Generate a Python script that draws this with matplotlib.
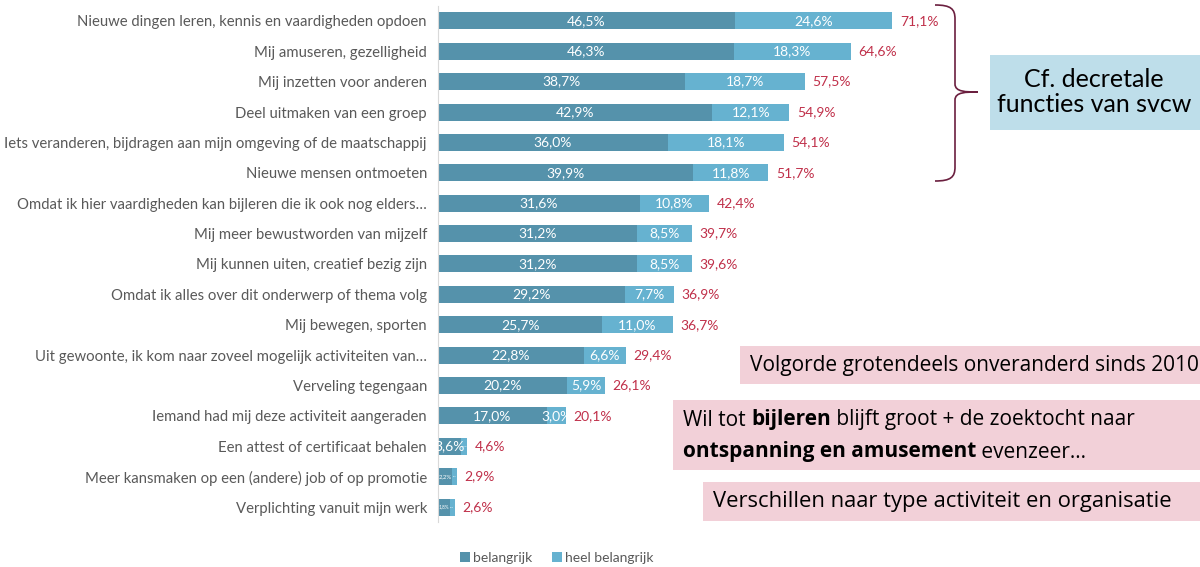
import numpy as np
import matplotlib.pyplot as plt
from matplotlib.path import Path
from matplotlib.patches import PathPatch, Rectangle

plt.rcParams['font.family'] = ['Lato', 'DejaVu Sans']

labels = [
    "Nieuwe dingen leren, kennis en vaardigheden opdoen",
    "Mij amuseren, gezelligheid",
    "Mij inzetten voor anderen",
    "Deel uitmaken van een groep",
    "Iets veranderen, bijdragen aan mijn omgeving of de maatschappij",
    "Nieuwe mensen ontmoeten",
    "Omdat ik hier vaardigheden kan bijleren die ik ook nog elders\u2026",
    "Mij meer bewustworden van mijzelf",
    "Mij kunnen uiten, creatief bezig zijn",
    "Omdat ik alles over dit onderwerp of thema volg",
    "Mij bewegen, sporten",
    "Uit gewoonte, ik kom naar zoveel mogelijk activiteiten van\u2026",
    "Verveling tegengaan",
    "Iemand had mij deze activiteit aangeraden",
    "Een attest of certificaat behalen",
    "Meer kansmaken op een (andere) job of op promotie",
    "Verplichting vanuit mijn werk",
]
belangrijk = [46.5, 46.3, 38.7, 42.9, 36.0, 39.9, 31.6, 31.2, 31.2, 29.2,
              25.7, 22.8, 20.2, 17.0, 3.6, 2.2, 1.8]
heel_belangrijk = [24.6, 18.3, 18.7, 12.1, 18.1, 11.8, 10.8, 8.5, 8.5, 7.7,
                   11.0, 6.6, 5.9, 3.0, 1.0, 0.7, 0.8]
totaal = [71.1, 64.6, 57.5, 54.9, 54.1, 51.7, 42.4, 39.7, 39.6, 36.9,
          36.7, 29.4, 26.1, 20.1, 4.6, 2.9, 2.6]

c_dark = "#5592AB"
c_light = "#66B2D0"
c_total = "#C0304A"
c_text = "#595959"


def pct(v):
    return f"{v:.1f}%".replace(".", ",")


fig = plt.figure(figsize=(12, 5.67), dpi=100)
ax = fig.add_axes([0.365, 0.079, 0.426, 0.911])

y = np.arange(len(labels))
b1 = ax.barh(y, belangrijk, height=0.56, color=c_dark, label="belangrijk")
b2 = ax.barh(y, heel_belangrijk, left=belangrijk, height=0.56, color=c_light,
             label="heel belangrijk")

for yy, b, h, t in zip(y, belangrijk, heel_belangrijk, totaal):
    ax.text(b + h + 1.2, yy, pct(t), ha="left", va="center",
            color=c_total, fontsize=10)

ax.set_xlim(0, 80)
ax.set_ylim(len(labels) - 0.5, -0.5)
ax.set_yticks(y)
ax.set_yticklabels(labels, fontsize=10.7, color=c_text)
ax.tick_params(axis="y", length=0, pad=8)
ax.set_xticks([])
for s in ["top", "right", "bottom"]:
    ax.spines[s].set_visible(False)
ax.spines["left"].set_color("#D9D9D9")

fig.legend(handles=[b1, b2], loc="center", bbox_to_anchor=(0.464, 0.016),
           ncol=2, frameon=False, fontsize=10, handlelength=0.7,
           handleheight=0.7, handletextpad=0.25, columnspacing=1.4,
           labelcolor=c_text)

fig.canvas.draw()
renderer = fig.canvas.get_renderer()

# labels inside the segments, shrunk only where the segment is far too narrow
for bars, vals in [(b1, belangrijk), (b2, heel_belangrijk)]:
    for bar, v in zip(bars, vals):
        cx = bar.get_x() + bar.get_width() / 2
        cy = bar.get_y() + bar.get_height() / 2
        t = ax.text(cx, cy, pct(v), ha="center", va="center",
                    color="white", fontsize=10)
        tw = t.get_window_extent(renderer).width
        bw = bar.get_window_extent(renderer).width
        if tw > bw + 15:
            t.set_fontsize(max(10 * (bw - 1) / tw, 1))
        t.set_clip_path(bar)

# brace
W, H = 1200, 567


def fx(px):
    return px / W


def fy(py):
    return 1 - py / H


x0, x1, xt = 935, 955, 978
ytop, ymid, ybot = 5, 92, 181
verts = [
    (x0, ytop), (x1 - 4, ytop), (x1, ytop + 4), (x1, ytop + 14),
    (x1, ymid - 8), (x1, ymid - 8), (x1, ymid - 8),
    (x1, ymid), (xt - 12, ymid), (xt, ymid),
    (xt - 12, ymid), (x1, ymid), (x1, ymid + 8),
    (x1, ybot - 14), (x1, ybot - 4), (x1 - 4, ybot), (x0, ybot),
]
codes = [Path.MOVETO, Path.CURVE4, Path.CURVE4, Path.CURVE4,
         Path.LINETO, Path.LINETO, Path.LINETO,
         Path.CURVE4, Path.CURVE4, Path.CURVE4,
         Path.CURVE4, Path.CURVE4, Path.CURVE4,
         Path.LINETO, Path.CURVE4, Path.CURVE4, Path.CURVE4]
verts = [(fx(a), fy(b)) for a, b in verts]
fig.patches.append(PathPatch(Path(verts, codes), transform=fig.transFigure,
                             fill=False, edgecolor="#6B1F3F", lw=1.2))


def box(px0, py0, px1, py1, color):
    fig.patches.append(Rectangle((fx(px0), fy(py1)), fx(px1 - px0),
                                 (py1 - py0) / H, transform=fig.transFigure,
                                 facecolor=color, edgecolor="none"))


box(990, 55, 1200, 130, "#BEDEEA")
fig.text(fx(1094), fy(92), "Cf. decretale\nfuncties van svcw", ha="center",
         va="center", fontsize=18, color="black", linespacing=1.1,
         family=["Lato", "DejaVu Sans"])

pink = "#F2D0D8"
box2font = ["Open Sans", "DejaVu Sans"]
box(740, 346, 1200, 384, pink)
fig.text(fx(750), fy(366), "Volgorde grotendeels onveranderd sinds 2010",
         ha="left", va="center", fontsize=15, family=box2font)
box(673, 400, 1200, 470, pink)
box(703, 482, 1200, 521, pink)
fig.text(fx(713), fy(502), "Verschillen naar type activiteit en organisatie",
         ha="left", va="center", fontsize=15.8, family=box2font)


def rich_line(x_px, y_px, parts):
    x = fx(x_px)
    for txt, w in parts:
        t = fig.text(x, fy(y_px), txt, ha="left", va="center", fontsize=15,
                     fontweight=w, family=box2font)
        bb = t.get_window_extent(renderer)
        x = bb.x1 / fig.bbox.width


rich_line(683, 420, [("Wil tot ", "normal"), ("bijleren", "bold"),
                     (" blijft groot + de zoektocht naar", "normal")])
rich_line(683, 452, [("ontspanning en amusement", "bold"),
                     (" evenzeer\u2026", "normal")])

fig.savefig("out.png", dpi=100)
